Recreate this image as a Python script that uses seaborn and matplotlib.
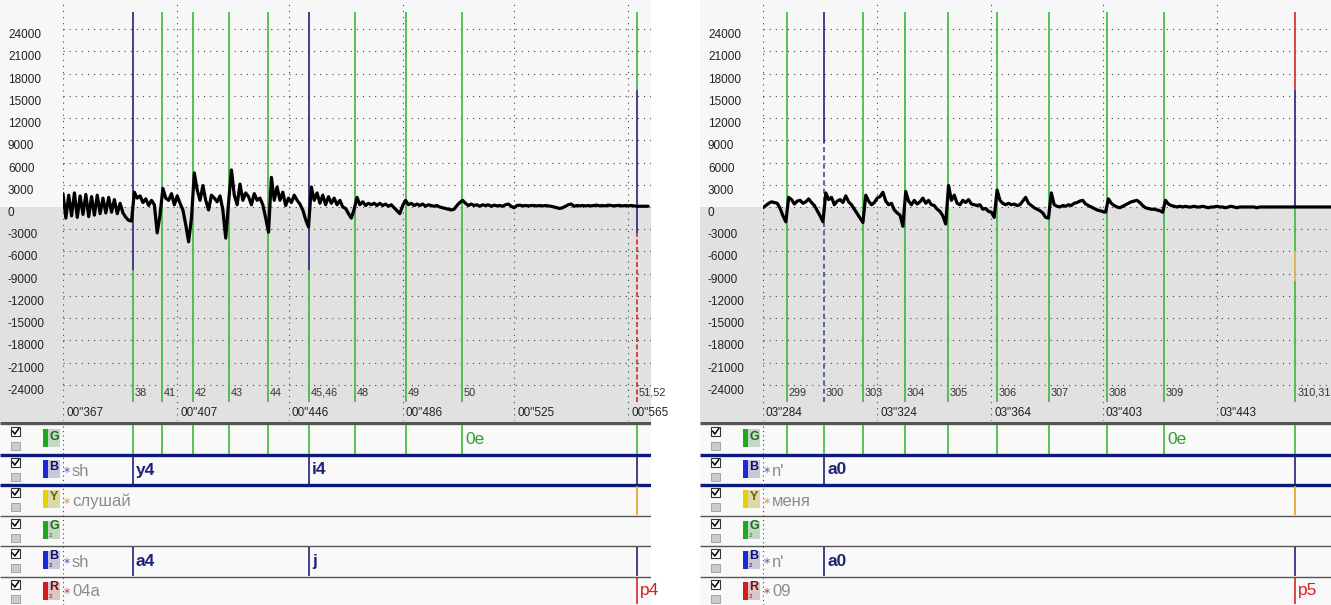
import numpy as np
import matplotlib
matplotlib.use('Agg')
import matplotlib.pyplot as plt
import matplotlib.transforms as mtrans
from matplotlib.patches import Rectangle
import seaborn as sns

sns.set_style('white')
plt.rcParams['font.family'] = ['Liberation Sans', 'DejaVu Sans']

##########################################################################
### data

amp_ticks = list(range(-24000, 24001, 3000))

# left fragment ("слушай"), one value per ms starting at 367 ms
left_t0 = 367
left_amp = [
    1800, -1500, 1600, -1200, 1900, -1400, 1500, -1000, 1700, -1300,
    1400, -1100, 1600, -900, 1200, -800, 1300, -700, 1000, -900,
    500, -800, -1400, -1800, -1900, 2000, 1200, 1500, 600, 1100,
    200, 900, 300, -3500, -1000, 2500, 1200, 900, 1800, 300,
    1500, 500, -400, -2400, -4700, -1500, 4600, 2300, 900, 2900,
    900, -400, 1600, 1200, 700, 1500, -400, -4200, 600, 5000,
    1600, 300, 3100, 900, 1900, 1400, 300, 1800, 900, 1200,
    300, -1500, -3400, 4000, 900, 2700, 900, 2000, 200, 1200,
    600, 1600, 900, 400, -400, -1700, -2700, 2700, 900, 1900,
    500, 1600, 300, 1400, 500, 1200, 300, 900, 0, -200,
    -900, -1500, -300, 1300, 300, 700, 200, 500, 300, 500,
    200, 500, 200, 400, 100, 300, -100, -500, -900, 200,
    900, 300, 500, 200, 400, 200, 400, 100, 300, 200,
    100, 200, 0, -100, -200, -300, -400, -300, 200, 600,
    900, 500, 200, 400, 200, 300, 100, 300, 200, 300,
    100, 250, 150, 200, 100, 300, 400, 100, -100, 200,
    250, 150, 200, 150, 200, 200, 150, 200, 150, 200,
    150, 100, 0, -100, -200, -100, 100, 300, 400, 100,
    200, 150, 200, 150, 200, 150, 200, 250, 150, 200,
    150, 250, 200, 150, 200, 200, 150, 200, 150, 200,
    150, 100, 100, 100, 100, 100,
]
left_marks = [391.5, 401.7, 412.5, 425.1, 438.8, 453.2, 469.3, 487.1, 506.8, 568.0]
left_mark_labels = ['38', '41', '42', '43', '44', '45,46', '48', '49', '50', '51,52']
left_time_ticks = [367, 407, 446, 486, 525, 565]
left_time_labels = ['00"367', '00"407', '00"446', '00"486', '00"525', '00"565']
left_tier_names = ['', 'sh', 'слушай', '', 'sh', '04a']
left_tier_notes = [[('0e', 8)], [('y4', 0), ('i4', 5)], [], [], [('a4', 0), ('j', 5)], [('p4', 9)]]
left_tier_lines = [list(range(10)), [0, 5, 9], [9], [], [0, 5, 9], [9]]

# right fragment ("меня"), one value per ms starting at 3284 ms
right_t0 = 3284
right_amp = [
    -100, 200, 500, 700, 600, 500, -200, -1200, -2000, 1300,
    1000, 400, 800, 900, 500, 700, 1100, 600, 200, -500,
    -1200, -2000, 1900, 1000, 1300, 300, 800, 1000, 600, 1500,
    700, 300, -300, -900, -1500, -2100, 1600, 800, 300, 600,
    1200, 1400, 2000, 800, 300, 500, -400, -800, -1100, -2600,
    2100, 800, 300, 900, 400, 700, 1200, 500, 900, 300,
    200, -300, -600, -1200, -2300, 2900, 900, 1600, 500, 300,
    900, 600, 1000, 400, 300, 200, 300, -300, -200, -600,
    -700, -1400, 2300, 900, 500, 300, 500, 300, 400, 200,
    300, 800, 1300, 500, 200, -100, -300, -500, -800, -1400,
    -1500, 1900, 300, 100, 0, 200, 100, 300, 200, 500,
    600, 800, 900, 400, 200, 0, -200, -400, -500, -600,
    -700, 1100, 500, 200, 0, -100, 100, 300, 500, 700,
    800, 900, 600, 200, -100, -200, -300, -300, -400, -500,
    -700, 900, 400, 200, 100, 0, 100, 0, 100, 0,
    0, 100, 0, 0, 100, 0, -100, 0, 0, 100,
    0, 0, -100, 0, 100, 0, -100, 0, 0, 0,
    0, 0, 0, -100, 0, 0, 0, 0, 0, 0,
    0, 0, 0, 0, 0, 0, 0, 0, 0, 0,
    0, 0, 0, 0, 0, 0, 0, 0, 0, 0,
]
right_marks = [3292.4, 3305.4, 3319.0, 3333.7, 3348.8, 3366.0, 3384.2, 3404.5, 3424.5, 3470.4]
right_mark_labels = ['299', '300', '303', '304', '305', '306', '307', '308', '309', '310,31']
right_time_ticks = [3284, 3324, 3364, 3403, 3443]
right_time_labels = ['03"284', '03"324', '03"364', '03"403', '03"443']
right_tier_names = ['', "n'", 'меня', '', "n'", '09']
right_tier_notes = [[('0e', 8)], [('a0', 1)], [], [], [('a0', 1)], [('p5', 9)]]
right_tier_lines = [list(range(10)), [1, 9], [9], [], [1, 9], [9]]

##########################################################################
### layout / styles

W, H = 1331, 605
MS_PX = 0.3503     # ms per pixel
AMP_PX = 135       # amplitude per pixel
ZERO_Y = 207       # pixel row of the zero line
WAVE_H = 421       # height of the waveform area
LEFT_W = 63        # width of the amplitude label column

GREEN = '#3cb83c'
NAVY = '#1f2378'
RED = '#d42a1e'
TOP, BOT = (ZERO_Y - 12) * AMP_PX, -(402 - ZERO_Y) * AMP_PX

kinds = {
    'g': [(TOP, BOT, GREEN, '-')],
    'bg': [(TOP, -8500, NAVY, '-'), (-8500, BOT, GREEN, '-')],
    'bd': [(TOP, 8600, NAVY, '-'), (8600, BOT, '#3a50a0', (0, (3, 2)))],
    'endL': [(TOP, 15800, GREEN, '-'), (15800, -3500, NAVY, '-'), (-3500, BOT, RED, (0, (3, 1.5)))],
    'endR': [(TOP, 15800, RED, '-'), (15800, 0, NAVY, '-'), (0, -6000, GREEN, '-'),
             (-6000, -10000, '#d8b040', '-'), (-10000, BOT, GREEN, '-')],
}
left_kinds = ['bg', 'g', 'g', 'g', 'g', 'bg', 'g', 'g', 'g', 'endL']
right_kinds = ['g', 'bd', 'g', 'g', 'g', 'g', 'g', 'g', 'g', 'endR']

TIER_ROWS = [(424, 455), (455, 485), (485, 516), (516, 546), (546, 577), (577, 605)]
TIER_COL = [GREEN, NAVY, '#e0a020', GREEN, NAVY, RED]
ICONS = [('G', '', '#1fa81f', '#c6d6c6', '#137013'),
         ('B', '', '#1a2ad8', '#c8c8d8', '#101070'),
         ('Y', '', '#e6d200', '#dcd8a8', '#706000'),
         ('G', '2', '#1fa81f', '#c6d6c6', '#137013'),
         ('B', '2', '#1a2ad8', '#c8c8d8', '#101070'),
         ('R', '2', '#d41c1c', '#dcc6c6', '#701010')]
STAR_COL = ['', '#5a70c0', '#e0a040', '', '#5a70c0', '#d05050']
NOTE_STYLE = [('#2fa02f', 'normal'), (NAVY, 'bold'), (NAVY, 'bold'), (GREEN, 'normal'),
              (NAVY, 'bold'), ('#d42020', 'normal')]

fig = plt.figure(figsize=(W / 100, H / 100), dpi=100)
fig.patch.set_facecolor('white')


def px_axes(x, y, w, h):
    return fig.add_axes([x / W, 1 - (y + h) / H, w / W, h / H])


def shift(ax, dx, dy=0):
    return mtrans.offset_copy(ax.transData, fig=fig, x=dx, y=dy, units='dots')


def draw_panel(ox, pw, t0, amp, marks, mark_labels, mark_kinds, time_ticks, time_labels,
               tier_names, tier_notes, tier_lines):
    x1 = t0 + (pw - LEFT_W) * MS_PX
    ylim = (-(WAVE_H - ZERO_Y) * AMP_PX, ZERO_Y * AMP_PX)

    # background: light above zero, grey below
    bg = px_axes(ox, 0, pw, WAVE_H)
    bg.set_xlim(0, 1)
    bg.set_ylim(*ylim)
    bg.axhspan(0, ylim[1], color='#f7f7f7', lw=0)
    bg.axhspan(ylim[0], 0, color='#e1e1e1', lw=0)
    bg.axis('off')

    ax = px_axes(ox + LEFT_W, 0, pw - LEFT_W, WAVE_H)
    ax.patch.set_alpha(0)
    t = t0 + np.arange(len(amp))
    sns.lineplot(x=t, y=amp, ax=ax, color='black', linewidth=2.3, zorder=4)
    ax.set_xlim(t0, x1)
    ax.set_ylim(*ylim)
    ax.set_xlabel('')
    ax.set_ylabel('')
    for s in ax.spines.values():
        s.set_visible(False)

    ax.set_yticks(amp_ticks)
    ax.set_yticklabels([str(v) for v in amp_ticks])
    ax.set_xticks(time_ticks)
    ax.tick_params(axis='both', length=0, labelbottom=False)
    ax.tick_params(axis='y', pad=(LEFT_W - 8) * 0.72, labelsize=8.5, labelcolor='#222222')
    for lab in ax.get_yticklabels():
        lab.set_ha('left')
        lab.set_va('top')
    ax.grid(True, ls=(0, (1, 4.5)), color='#444444', lw=0.8)

    for m, k in zip(marks, mark_kinds):
        for y0, y1, c, ls in kinds[k]:
            ax.vlines(m, y1, y0, colors=c, linestyles=ls, lw=1.2, zorder=3)
    for m, lab in zip(marks, mark_labels):
        ax.text(m, -25100, lab, transform=shift(ax, 2), ha='left', va='center',
                fontsize=7.8, color='#333333', zorder=5)
    for tt, lab in zip(time_ticks, time_labels):
        ax.text(tt, -27800, lab, transform=shift(ax, 3), ha='left', va='center',
                fontsize=8.5, color='#222222', zorder=5)

    # annotation tiers
    th = H - WAVE_H
    lab_ax = px_axes(ox, WAVE_H, pw, th)
    lab_ax.set_xlim(0, pw)
    lab_ax.set_ylim(H, WAVE_H)
    lab_ax.set_facecolor('#f9f9f9')
    for s in lab_ax.spines.values():
        s.set_visible(False)
    lab_ax.set_xticks([])
    lab_ax.set_yticks([])
    lab_ax.hlines(422.5, 0, pw, color='#555555', lw=2.4)
    for yb, c, lw in [(455, '#0c1a7c', 2.4), (485, '#0c1a7c', 2.4), (516, '#555555', 1.0),
                      (546, '#555555', 1.0), (577, '#555555', 1.0)]:
        lab_ax.hlines(yb, 0, pw, color=c, lw=lw)

    for i, (top, bot) in enumerate(TIER_ROWS):
        # checkbox and button
        lab_ax.add_patch(Rectangle((11, top + 3), 9, 9, facecolor='white', edgecolor='#333333', lw=0.8))
        lab_ax.plot([12.5, 14.8, 18.8], [top + 7, top + 10, top + 4.5], color='black', lw=1.1)
        lab_ax.add_patch(Rectangle((11, top + 18), 9, 8, facecolor='#cbcbcb', edgecolor='#9a9a9a', lw=0.6))
        # colored tier icon
        letter, sub, barc, boxc, letc = ICONS[i]
        lab_ax.add_patch(Rectangle((43, top + 5), 5, 18, facecolor=barc, lw=0))
        lab_ax.add_patch(Rectangle((48, top + 5), 12, 18, facecolor=boxc, lw=0))
        ly = top + 12.5 if sub == '' else top + 10
        lab_ax.text(54, ly, letter, ha='center', va='center', fontsize=9,
                    fontweight='bold', color=letc)
        if sub:
            lab_ax.text(50.5, top + 19.5, sub, ha='center', va='center', fontsize=4.5, color=letc)
        if tier_names[i]:
            lab_ax.text(63, (top + bot) / 2, '∗', ha='left', va='center', fontsize=7,
                        color=STAR_COL[i], family='DejaVu Sans')
            lab_ax.text(72, (top + bot) / 2 + 1, tier_names[i], ha='left', va='center',
                        fontsize=12, color='#8c8c8c')

    tr = px_axes(ox + LEFT_W, WAVE_H, pw - LEFT_W, th)
    tr.set_xlim(t0, x1)
    tr.set_ylim(H, WAVE_H)
    tr.axis('off')
    tr.axvline(t0, ymin=0, ymax=0.99, color='#444444', ls=(0, (1, 3)), lw=0.8, clip_on=False)
    for i, (top, bot) in enumerate(TIER_ROWS):
        if tier_lines[i]:
            tr.vlines([marks[j] for j in tier_lines[i]], top + 1, bot - 1,
                      colors=TIER_COL[i], lw=1.2)
        c, wgt = NOTE_STYLE[i]
        for txt, j in tier_notes[i]:
            tr.text(marks[j], (top + bot) / 2, txt, transform=shift(tr, 3), ha='left',
                    va='center', fontsize=12.5, color=c, fontweight=wgt)


draw_panel(0, 651, left_t0, left_amp, left_marks, left_mark_labels, left_kinds,
           left_time_ticks, left_time_labels, left_tier_names, left_tier_notes, left_tier_lines)
draw_panel(700, 631, right_t0, right_amp, right_marks, right_mark_labels, right_kinds,
           right_time_ticks, right_time_labels, right_tier_names, right_tier_notes, right_tier_lines)

fig.savefig('out.png', dpi=100, facecolor='white')
